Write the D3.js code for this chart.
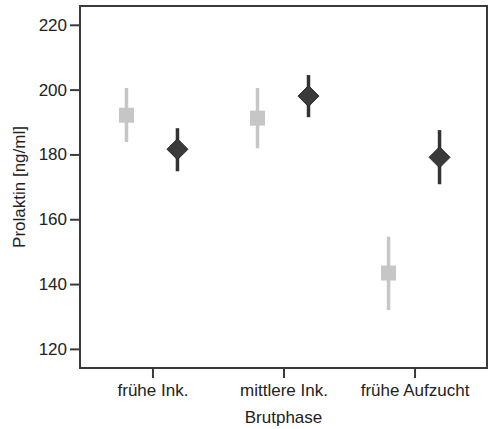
<!DOCTYPE html>
<html><head><meta charset="utf-8">
<script src="https://cdn.jsdelivr.net/npm/d3@7/dist/d3.min.js"></script>
<style>body{margin:0;background:#fff}svg{display:block}text{font-family:"Liberation Sans",Arial,sans-serif;fill:#222}</style>
</head><body>
<script>
const categories = ["frühe Ink.", "mittlere Ink.", "frühe Aufzucht"];
const seriesNames = ["grau", "dunkel"];
const greyMean = [192.1, 191.2, 143.4];
const greyLow  = [183.8, 181.9, 132.0];
const greyHigh = [200.5, 200.5, 154.6];
const darkMean = [181.6, 198.0, 179.1];
const darkLow  = [174.8, 191.5, 170.8];
const darkHigh = [188.1, 204.5, 187.5];
const yTicks = [120, 140, 160, 180, 200, 220];

const W = 491, H = 429;
const m = {l: 80, r: 4, t: 6, b: 61};
const svg = d3.select("body").append("svg").attr("width", W).attr("height", H);

const x = d3.scalePoint().domain(categories).range([m.l, W - m.r]).padding(0.553);
const y = d3.scaleLinear().domain([114.1, 225.8]).range([H - m.b, m.t]);
const off = d3.scalePoint().domain(seriesNames).range([-26, 25]);

// frame
svg.append("rect").attr("x", m.l).attr("y", m.t).attr("width", W - m.r - m.l).attr("height", H - m.b - m.t)
  .attr("fill", "none").attr("stroke", "#3a3a3a").attr("stroke-width", 2);

// y axis
const ya = svg.append("g").attr("transform", `translate(${m.l},0)`)
  .call(d3.axisLeft(y).tickValues(yTicks).tickSize(10).tickPadding(3).tickFormat(d3.format("d")));
ya.select(".domain").remove();
ya.selectAll("line").attr("stroke", "#3a3a3a").attr("stroke-width", 2);
ya.selectAll("text").attr("font-size", 17).style("font-family", "Liberation Sans, Arial, sans-serif").attr("fill", "#222");

// x axis
const xa = svg.append("g").attr("transform", `translate(0,${H - m.b})`)
  .call(d3.axisBottom(x).tickSize(10).tickPadding(6));
xa.select(".domain").remove();
xa.selectAll("line").attr("stroke", "#3a3a3a").attr("stroke-width", 2);
xa.selectAll("text").attr("font-size", 17).style("font-family", "Liberation Sans, Arial, sans-serif").attr("fill", "#222");

// titles
svg.append("text").attr("x", x(categories[1])).attr("y", 423).attr("text-anchor", "middle")
  .attr("font-size", 17).text("Brutphase");
svg.append("text").attr("transform", `translate(25,${(m.t + H - m.b) / 2}) rotate(-90)`)
  .attr("text-anchor", "middle").attr("font-size", 17).text("Prolaktin [ng/ml]");

// grey series
const g1 = svg.append("g");
categories.forEach((c, i) => {
  const cx = x(c) + off("grau");
  g1.append("line").attr("x1", cx).attr("x2", cx).attr("y1", y(greyLow[i])).attr("y2", y(greyHigh[i]))
    .attr("stroke", "#c6c6c6").attr("stroke-width", 3.5);
  g1.append("rect").attr("x", cx - 7.5).attr("y", y(greyMean[i]) - 7.5).attr("width", 15).attr("height", 15)
    .attr("fill", "#c6c6c6");
});
// dark series
const g2 = svg.append("g");
categories.forEach((c, i) => {
  const cx = x(c) + off("dunkel");
  g2.append("line").attr("x1", cx).attr("x2", cx).attr("y1", y(darkLow[i])).attr("y2", y(darkHigh[i]))
    .attr("stroke", "#333").attr("stroke-width", 3.5);
  const cy = y(darkMean[i]);
  g2.append("path").attr("d", `M${cx},${cy - 10.5}L${cx + 10.5},${cy}L${cx},${cy + 10.5}L${cx - 10.5},${cy}Z`)
    .attr("fill", "#3a3a3a").attr("stroke", "#2a2a2a").attr("stroke-width", 1);
});
</script>
</body></html>
